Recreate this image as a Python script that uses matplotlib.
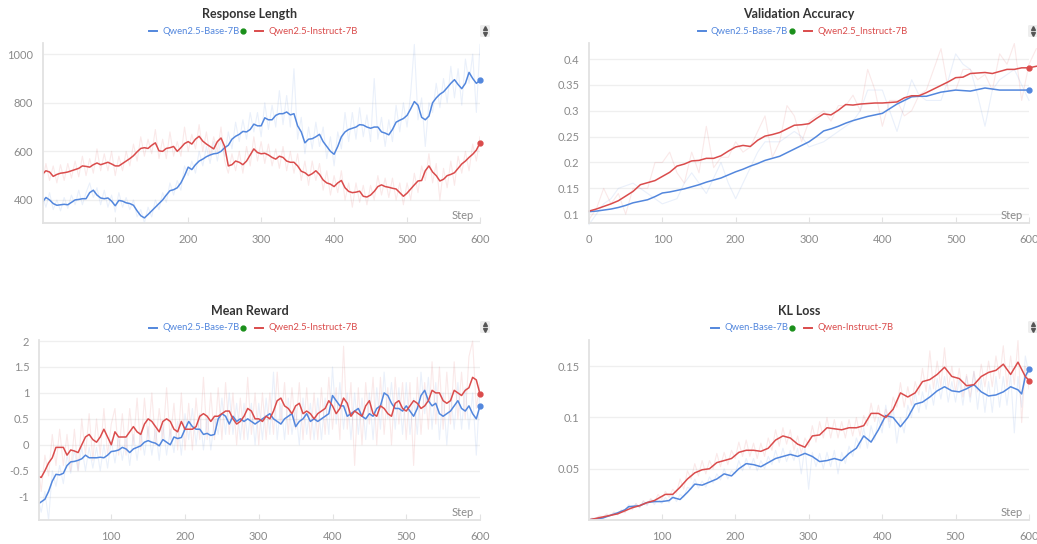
import numpy as np
import matplotlib
matplotlib.use('Agg')
import matplotlib.pyplot as plt
from matplotlib.lines import Line2D
from matplotlib.patches import FancyBboxPatch

plt.rcParams['font.family'] = ['Lato', 'DejaVu Sans']

BLUE = '#5387dd'
RED = '#da4c4c'

#------------------------------------------------ data
# grid of 5 steps used by the dense charts
steps5 = list(range(0, 601, 5))

# Response Length
rl_base = [390, 410, 400, 385, 378, 380, 382, 380, 390, 400, 402, 405, 405, 430, 440, 420, 408, 405, 408, 395,
           376, 398, 395, 388, 385, 378, 355, 335, 326, 340, 355, 370, 385, 400, 420, 438, 442, 450, 470, 500,
           535, 525, 545, 560, 568, 578, 585, 590, 592, 600, 615, 625, 650, 662, 670, 682, 680, 690, 712, 705,
           705, 738, 730, 730, 748, 755, 755, 762, 750, 755, 705, 680, 635, 650, 652, 660, 670, 640, 620, 600,
           588, 620, 660, 680, 690, 695, 700, 710, 708, 700, 695, 700, 700, 680, 675, 668, 690, 720, 728, 735,
           748, 775, 805, 790, 740, 730, 745, 800, 820, 835, 845, 862, 880, 895, 875, 858, 880, 925, 900, 880, 892]
rl_base_raw = [420, 370, 430, 360, 400, 355, 410, 365, 420, 380, 440, 380, 430, 470, 410, 450, 380, 440, 370, 420,
               350, 430, 370, 410, 360, 400, 330, 360, 305, 370, 330, 400, 360, 430, 390, 470, 420, 480, 440, 540,
               500, 560, 510, 600, 540, 620, 550, 640, 560, 650, 580, 680, 610, 720, 640, 730, 650, 760, 680, 760,
               660, 800, 690, 790, 700, 850, 710, 830, 700, 940, 650, 740, 590, 700, 610, 720, 620, 700, 570, 660,
               540, 680, 610, 760, 640, 760, 650, 780, 660, 750, 640, 900, 650, 740, 620, 730, 640, 790, 680, 800,
               700, 840, 1040, 730, 820, 620, 800, 760, 880, 780, 900, 800, 950, 820, 940, 790, 980, 880, 1000, 760, 1040]
rl_inst = [505, 520, 515, 497, 505, 510, 512, 515, 520, 525, 530, 540, 538, 535, 545, 552, 545, 550, 555, 548,
           540, 540, 550, 560, 570, 582, 598, 612, 615, 612, 625, 635, 602, 600, 612, 615, 620, 600, 615, 632,
           640, 630, 650, 662, 642, 630, 620, 610, 640, 655, 620, 540, 545, 560, 555, 545, 560, 585, 610, 595,
           590, 592, 585, 575, 568, 580, 575, 560, 555, 555, 540, 518, 512, 500, 508, 520, 505, 482, 470, 465,
           455, 470, 480, 450, 435, 430, 432, 436, 415, 412, 420, 435, 455, 462, 455, 452, 448, 445, 430, 415,
           428, 445, 462, 478, 480, 520, 540, 515, 500, 478, 485, 500, 505, 512, 530, 548, 560, 575, 588, 605, 635]
rl_inst_raw = [470, 550, 480, 540, 470, 545, 480, 550, 490, 560, 495, 580, 500, 570, 510, 610, 520, 590, 520, 600,
               500, 580, 520, 600, 540, 630, 560, 660, 580, 650, 590, 690, 570, 650, 570, 680, 580, 640, 580, 700,
               600, 670, 610, 710, 600, 680, 580, 660, 600, 700, 560, 510, 590, 520, 600, 510, 620, 540, 660, 560,
               640, 550, 630, 540, 610, 530, 620, 520, 600, 510, 590, 480, 560, 460, 560, 480, 550, 440, 520, 420,
               500, 430, 520, 400, 470, 370, 470, 390, 460, 380, 460, 400, 500, 420, 490, 410, 490, 400, 470, 380,
               470, 400, 510, 430, 540, 480, 590, 470, 550, 400, 530, 450, 560, 460, 580, 510, 600, 520, 630, 560, 660]

# Validation Accuracy (evaluated every 10 steps)
va_steps = list(range(0, 601, 10))
va_base = [0.105, 0.106, 0.108, 0.110, 0.113, 0.117, 0.122, 0.125, 0.128, 0.134, 0.141, 0.143, 0.146, 0.149, 0.153,
           0.157, 0.162, 0.166, 0.170, 0.176, 0.182, 0.187, 0.193, 0.198, 0.204, 0.208, 0.212, 0.219, 0.226, 0.233,
           0.240, 0.250, 0.261, 0.265, 0.270, 0.276, 0.281, 0.285, 0.289, 0.292, 0.295, 0.304, 0.313, 0.320, 0.327,
           0.328, 0.328, 0.332, 0.336, 0.338, 0.340, 0.339, 0.338, 0.341, 0.344, 0.342, 0.340, 0.340, 0.340, 0.340, 0.340]
va_base_raw = [0.08, 0.10, 0.12, 0.13, 0.15, 0.155, 0.16, 0.15, 0.14, 0.13, 0.12, 0.125, 0.13, 0.16, 0.18,
               0.16, 0.14, 0.17, 0.20, 0.16, 0.13, 0.16, 0.19, 0.22, 0.24, 0.24, 0.24, 0.25, 0.26, 0.25,
               0.23, 0.235, 0.24, 0.25, 0.26, 0.27, 0.28, 0.30, 0.34, 0.34, 0.34, 0.30, 0.26, 0.31, 0.36,
               0.33, 0.32, 0.32, 0.32, 0.36, 0.41, 0.39, 0.38, 0.33, 0.27, 0.34, 0.36, 0.37, 0.38, 0.35, 0.32]
va_steps_inst = list(range(0, 611, 10))
va_inst = [0.106, 0.110, 0.115, 0.120, 0.126, 0.135, 0.144, 0.157, 0.161, 0.165, 0.173, 0.181, 0.193, 0.197, 0.203,
           0.204, 0.208, 0.208, 0.213, 0.222, 0.230, 0.233, 0.231, 0.243, 0.251, 0.254, 0.258, 0.265, 0.272, 0.273,
           0.275, 0.285, 0.294, 0.292, 0.301, 0.312, 0.311, 0.313, 0.314, 0.315, 0.315, 0.316, 0.317, 0.325, 0.329,
           0.329, 0.335, 0.342, 0.349, 0.356, 0.364, 0.365, 0.372, 0.373, 0.374, 0.372, 0.376, 0.380, 0.380, 0.383,
           0.383, 0.386]
va_inst_raw = [0.09, 0.11, 0.15, 0.12, 0.14, 0.10, 0.15, 0.15, 0.15, 0.20, 0.20, 0.22, 0.18, 0.16, 0.22,
               0.18, 0.27, 0.19, 0.21, 0.21, 0.24, 0.22, 0.23, 0.26, 0.29, 0.21, 0.24, 0.31, 0.29, 0.24,
               0.28, 0.29, 0.30, 0.28, 0.31, 0.31, 0.33, 0.30, 0.38, 0.34, 0.27, 0.32, 0.32, 0.29, 0.30,
               0.33, 0.34, 0.38, 0.42, 0.34, 0.34, 0.38, 0.38, 0.36, 0.37, 0.34, 0.41, 0.39, 0.43, 0.32,
               0.39, 0.42]

# Mean Reward
mr_base = [-1.15, -1.1, -1.05, -0.9, -0.7, -0.57, -0.58, -0.55, -0.4, -0.33, -0.32, -0.3, -0.27, -0.2, -0.25,
           -0.25, -0.25, -0.24, -0.25, -0.2, -0.13, -0.12, -0.1, -0.05, -0.08, -0.15, -0.08, -0.05, -0.02, 0.05,
           0.08, 0.05, 0.03, -0.02, 0.1, 0.05, 0.0, 0.15, 0.12, 0.14, 0.3, 0.45, 0.35, 0.3, 0.3,
           0.2, 0.22, 0.18, 0.2, 0.5, 0.6, 0.55, 0.4, 0.55, 0.45, 0.5, 0.45, 0.5, 0.45, 0.4,
           0.45, 0.5, 0.55, 0.6, 0.5, 0.45, 0.4, 0.5, 0.55, 0.6, 0.35, 0.45, 0.5, 0.6, 0.45,
           0.5, 0.45, 0.5, 0.55, 0.6, 0.95, 0.85, 0.75, 0.75, 0.55, 0.6, 0.65, 0.7, 0.55, 0.5,
           0.6, 0.55, 0.7, 0.75, 1.0, 0.95, 0.8, 0.7, 0.7, 0.65, 0.75, 0.65, 0.55, 0.7, 0.95,
           1.05, 0.85, 0.75, 0.8, 0.6, 0.55, 0.6, 0.65, 0.75, 0.85, 0.7, 0.65, 0.75, 0.6, 0.5, 0.75]
mr_base_raw = [-1.0, -1.3, -0.9, -1.45, -0.5, -0.8, -0.4, -0.75, -0.2, -0.55, -0.1, -0.5, -0.05, -0.5, -0.05,
               -0.45, -0.05, -0.5, 0.0, -0.45, 0.1, -0.35, 0.15, -0.3, 0.15, -0.4, 0.2, -0.3, 0.25, -0.2,
               0.35, -0.2, 0.3, -0.3, 0.4, -0.2, 0.3, -0.15, 0.45, -0.2, 0.6, 0.1, 0.7, 0.0, 0.6,
               -0.1, 0.55, -0.1, 0.5, 0.2, 0.9, 0.2, 1.0, 0.2, 0.8, 0.1, 0.8, 0.1, 0.8, 0.0,
               0.8, 0.1, 0.9, 0.2, 1.4, 0.1, 0.8, 0.1, 0.9, 0.2, 0.7, 0.0, 0.9, 0.2, 0.8,
               0.1, 0.9, 0.1, 0.9, 0.2, 1.5, 0.4, 1.2, 0.3, 1.0, 0.1, 1.0, 0.2, 0.9, 0.1,
               1.0, 0.1, 1.1, 0.3, 1.4, 0.5, 1.2, 0.3, 1.1, 0.2, 1.2, 0.2, 0.9, 0.2, 1.4,
               0.6, 1.3, 0.3, 1.2, 0.1, 1.0, 0.0, 1.0, 0.3, 1.2, 0.3, 1.1, 0.3, 1.0, -0.2, 1.1]
mr_inst = [-0.6, -0.63, -0.5, -0.35, -0.25, -0.05, -0.05, -0.05, -0.2, -0.1, -0.12, -0.15, 0.0, 0.15, 0.2,
           0.1, 0.05, 0.15, 0.3, 0.15, 0.0, 0.25, 0.15, 0.15, 0.15, 0.25, 0.35, 0.25, 0.2, 0.4,
           0.5, 0.45, 0.35, 0.25, 0.45, 0.5, 0.45, 0.3, 0.25, 0.45, 0.3, 0.3, 0.3, 0.35, 0.55,
           0.6, 0.55, 0.45, 0.55, 0.55, 0.6, 0.65, 0.65, 0.5, 0.4, 0.45, 0.55, 0.7, 0.65, 0.5,
           0.5, 0.45, 0.55, 0.5, 0.65, 0.85, 0.9, 0.75, 0.7, 0.6, 0.75, 0.8, 0.6, 0.65, 0.6,
           0.5, 0.6, 0.65, 0.7, 0.85, 0.75, 0.6, 0.7, 0.9, 0.8, 0.55, 0.65, 0.6, 0.55, 0.75,
           0.85, 0.6, 0.55, 0.75, 0.7, 0.6, 0.55, 0.8, 0.85, 0.7, 0.65, 0.75, 0.85, 0.8, 0.7,
           0.75, 0.85, 1.05, 1.0, 1.0, 0.85, 0.8, 0.85, 1.05, 1.0, 0.95, 1.05, 1.1, 1.3, 1.25, 0.98]
mr_inst_raw = [-0.3, -0.9, -0.2, -0.6, 0.2, -0.4, 0.3, -0.4, 0.2, -0.5, 0.3, -0.5, 0.5, -0.2, 0.6,
               -0.3, 0.5, -0.2, 0.7, -0.2, 0.4, 0.7, -0.2, 0.6, -0.2, 0.7, 0.0, 0.9, -0.1, 0.9,
               0.1, 1.0, 0.0, 0.7, 0.1, 1.1, 0.1, 0.8, -0.1, 1.0, -0.1, 0.8, -0.1, 0.9, 0.1,
               1.3, 0.1, 1.0, 0.1, 1.1, 0.1, 1.2, 0.2, 1.0, 0.0, 0.9, 0.1, 1.3, 0.2, 1.0,
               0.0, 1.0, 0.1, 1.0, 0.2, 1.4, 0.4, 1.2, 0.2, 1.1, 0.3, 1.2, 0.1, 1.1, 0.1,
               1.0, 0.1, 1.1, 0.2, 1.3, 0.3, 1.1, 0.1, 1.9, 0.3, 1.2, -0.4, 1.1, 0.0, 1.2,
               0.4, 1.3, 0.0, 1.3, 0.2, 1.1, 0.0, 1.3, 0.4, 1.2, 0.1, 1.2, -0.4, 1.3, 0.2,
               1.2, 0.3, 1.6, 0.4, 1.5, 0.3, 1.4, 0.4, 1.6, 0.5, 1.4, 0.5, 1.7, 2.0, 0.7, 1.2]

# KL Loss
kl_steps_base = [0, 20, 40, 50, 55, 70, 80, 90, 100, 110, 115, 125, 135, 145, 155, 165, 175, 185, 195, 205,
                 215, 225, 235, 245, 255, 265, 275, 285, 295, 305, 315, 325, 335, 345, 355, 365, 375, 385, 395,
                 405, 415, 425, 435, 445, 455, 465, 475, 485, 495, 505, 515, 525, 535, 545, 555, 565, 575, 585,
                 590, 595, 600]
kl_base = [0.0, 0.002, 0.007, 0.01, 0.013, 0.014, 0.017, 0.018, 0.018, 0.019, 0.022, 0.02, 0.027, 0.035, 0.034,
           0.037, 0.04, 0.045, 0.043, 0.05, 0.055, 0.054, 0.052, 0.056, 0.06, 0.062, 0.064, 0.062, 0.065, 0.062,
           0.057, 0.058, 0.06, 0.058, 0.065, 0.07, 0.082, 0.076, 0.088, 0.102, 0.1, 0.091, 0.1, 0.113, 0.115,
           0.12, 0.126, 0.13, 0.126, 0.125, 0.128, 0.132, 0.125, 0.121, 0.122, 0.125, 0.13, 0.127, 0.123, 0.14, 0.147]
kl_base_raw = [0.0, 0.001, 0.002, 0.003, 0.002, 0.005, 0.004, 0.007, 0.006, 0.009, 0.008, 0.015, 0.011, 0.016, 0.012,
               0.018, 0.014, 0.02, 0.015, 0.021, 0.016, 0.022, 0.017, 0.025, 0.018, 0.025, 0.022, 0.032, 0.03, 0.04,
               0.031, 0.038, 0.032, 0.042, 0.036, 0.045, 0.039, 0.05, 0.04, 0.048, 0.045, 0.058, 0.048, 0.06, 0.05,
               0.06, 0.048, 0.058, 0.05, 0.062, 0.054, 0.068, 0.056, 0.07, 0.057, 0.068, 0.058, 0.07, 0.045, 0.072,
               0.03, 0.066, 0.052, 0.065, 0.05, 0.066, 0.052, 0.068, 0.045, 0.066, 0.055, 0.072, 0.062, 0.08, 0.07,
               0.09, 0.07, 0.092, 0.078, 0.1, 0.085, 0.112, 0.09, 0.11, 0.075, 0.1, 0.085, 0.112, 0.1, 0.125,
               0.105, 0.125, 0.108, 0.132, 0.112, 0.138, 0.118, 0.14, 0.115, 0.135, 0.115, 0.138, 0.112, 0.14, 0.115,
               0.145, 0.108, 0.138, 0.105, 0.135, 0.105, 0.14, 0.11, 0.14, 0.112, 0.142, 0.085, 0.14, 0.11, 0.16, 0.142]
kl_steps_inst = [0, 20, 40, 50, 60, 70, 80, 90, 100, 105, 115, 125, 135, 145, 155, 165, 175, 185, 195, 205,
                 215, 225, 235, 245, 255, 265, 275, 285, 295, 305, 315, 325, 335, 345, 355, 365, 375, 385, 395,
                 405, 415, 425, 435, 445, 455, 465, 475, 485, 495, 505, 515, 525, 535, 545, 555, 565, 575, 585,
                 595, 600]
kl_inst = [0.0, 0.003, 0.006, 0.009, 0.012, 0.014, 0.017, 0.019, 0.023, 0.025, 0.025, 0.032, 0.04, 0.046, 0.049,
           0.05, 0.056, 0.058, 0.06, 0.066, 0.068, 0.068, 0.067, 0.07, 0.078, 0.082, 0.08, 0.074, 0.071, 0.082,
           0.083, 0.09, 0.089, 0.088, 0.09, 0.09, 0.092, 0.104, 0.104, 0.1, 0.108, 0.124, 0.12, 0.124, 0.135,
           0.137, 0.142, 0.149, 0.14, 0.138, 0.131, 0.132, 0.14, 0.144, 0.146, 0.152, 0.142, 0.154, 0.14, 0.136]
kl_inst_raw = [0.0, 0.002, 0.001, 0.004, 0.003, 0.006, 0.004, 0.008, 0.005, 0.01, 0.007, 0.013, 0.01, 0.016, 0.012,
               0.019, 0.015, 0.021, 0.017, 0.025, 0.02, 0.028, 0.022, 0.03, 0.026, 0.04, 0.03, 0.048, 0.04, 0.055,
               0.043, 0.058, 0.045, 0.058, 0.05, 0.065, 0.052, 0.066, 0.054, 0.068, 0.06, 0.076, 0.062, 0.078, 0.062,
               0.075, 0.06, 0.075, 0.062, 0.08, 0.068, 0.088, 0.072, 0.09, 0.074, 0.088, 0.068, 0.082, 0.065, 0.08,
               0.072, 0.092, 0.076, 0.096, 0.08, 0.1, 0.08, 0.098, 0.08, 0.096, 0.08, 0.098, 0.082, 0.1, 0.082,
               0.102, 0.092, 0.114, 0.096, 0.112, 0.092, 0.108, 0.096, 0.12, 0.11, 0.134, 0.11, 0.13, 0.112, 0.135,
               0.122, 0.148, 0.125, 0.165, 0.128, 0.155, 0.13, 0.168, 0.128, 0.15, 0.125, 0.148, 0.12, 0.142, 0.12,
               0.145, 0.125, 0.152, 0.13, 0.155, 0.13, 0.16, 0.138, 0.17, 0.13, 0.16, 0.132, 0.175, 0.095, 0.15, 0.128]

#------------------------------------------------ figure
W, H = 1037, 544
fig = plt.figure(figsize=(W / 100, H / 100), dpi=100)


def px(x, y):
    return x / W, 1 - y / H


def make_ax(left, top, right, bottom):
    ax = fig.add_axes([left / W, 1 - bottom / H, (right - left) / W, (bottom - top) / H])
    for s in ['top', 'right']:
        ax.spines[s].set_visible(False)
    for s in ['left', 'bottom']:
        ax.spines[s].set_color('#e2e2e2')
        ax.spines[s].set_linewidth(1.3)
    ax.grid(axis='y', color='#efefef', linewidth=0.9)
    ax.set_axisbelow(True)
    ax.tick_params(axis='y', length=0, pad=7, labelsize=8, labelcolor='#8a8a8a')
    ax.tick_params(axis='x', direction='in', length=4, color='#e2e2e2', pad=8, labelsize=8, labelcolor='#8a8a8a')
    ax.text(0.985, 0.012, 'Step', transform=ax.transAxes, ha='right', va='bottom', fontsize=8, color='#8a8a8a')
    return ax


def fmt(v):
    return ('%g' % v)


def header(cx, ty, title, labels):
    x0, y0 = px(cx, ty)
    fig.text(x0, y0, title, ha='center', va='center', fontsize=9, fontweight='bold', color='#333333')
    # legend line laid out from measured text widths
    r = fig.canvas.get_renderer()
    ly = ty + 17
    fs = 6.8
    tmp = [fig.text(0, 0, lab, fontsize=fs) for lab in labels]
    widths = [t.get_window_extent(renderer=r).width for t in tmp]
    for t in tmp:
        t.remove()
    total = 8 + 5 + widths[0] + 4 + 5 + 8 + 8 + 5 + widths[1]
    x = cx - total / 2 + 4
    for i, (lab, c) in enumerate(zip(labels, [BLUE, RED])):
        fig.add_artist(Line2D([x / W, (x + 8) / W], [1 - ly / H] * 2, color=c, lw=1.4))
        x += 13
        fig.text(x / W, 1 - ly / H, lab, fontsize=fs, color=c, ha='left', va='center')
        x += widths[i]
        if i == 0:
            fig.add_artist(Line2D([(x + 4) / W], [1 - ly / H], marker='o', ms=3.5, color='#1a8f1a', lw=0))
            x += 16


def updown(x, y):
    fig.add_artist(FancyBboxPatch(((x - 5) / W, 1 - (y + 6) / H), 10 / W, 12 / H,
                                  boxstyle='round,pad=0,rounding_size=0.002', color='#eeeeee', lw=0))
    fig.add_artist(Line2D([x / W], [1 - (y - 2.6) / H], marker='^', ms=2.8, color='#555555', lw=0))
    fig.add_artist(Line2D([x / W], [1 - (y + 2.6) / H], marker='v', ms=2.8, color='#555555', lw=0))


def draw(ax, xb, yb, xbr, ybr, xi, yi, xir, yir, clip=True):
    ax.plot(xbr, ybr, color=BLUE, lw=0.8, alpha=0.12, clip_on=clip)
    ax.plot(xir, yir, color=RED, lw=0.8, alpha=0.12, clip_on=clip)
    ax.plot(xb, yb, color=BLUE, lw=1.1, clip_on=clip)
    ax.plot(xi, yi, color=RED, lw=1.1, clip_on=clip)
    ax.plot([600], [yb[xb.index(600)]], 'o', color=BLUE, ms=3.5, clip_on=False)
    ax.plot([600], [yi[xi.index(600)]], 'o', color=RED, ms=3.5, clip_on=False)


# Response Length
ax1 = make_ax(43, 43, 480, 223)
draw(ax1, steps5, rl_base, steps5, rl_base_raw, steps5, rl_inst, steps5, rl_inst_raw)
ax1.set_xlim(1, 600)
ax1.set_ylim(305, 1046)
ax1.set_xticks([100, 200, 300, 400, 500, 600])
ax1.set_yticks([400, 600, 800, 1000])
header(250, 14, 'Response Length', ['Qwen2.5-Base-7B', 'Qwen2.5-Instruct-7B'])
updown(485, 31)

# Validation Accuracy
ax2 = make_ax(589, 43, 1029, 223)
draw(ax2, va_steps, va_base, va_steps, va_base_raw, va_steps_inst, va_inst, va_steps_inst, va_inst_raw, clip=False)
ax2.set_xlim(0, 600)
ax2.set_ylim(0.083, 0.431)
ax2.set_xticks([0, 100, 200, 300, 400, 500, 600])
yt = [0.1, 0.15, 0.2, 0.25, 0.3, 0.35, 0.4]
ax2.set_yticks(yt)
ax2.set_yticklabels([fmt(v) for v in yt])
header(799, 14, 'Validation Accuracy', ['Qwen2.5-Base-7B', 'Qwen2.5_Instruct-7B'])
updown(1033, 31)

# Mean Reward
ax3 = make_ax(39, 340, 480, 520)
draw(ax3, steps5, mr_base, steps5, mr_base_raw, steps5, mr_inst, steps5, mr_inst_raw)
ax3.set_xlim(2, 600)
ax3.set_ylim(-1.45, 2.02)
ax3.set_xticks([100, 200, 300, 400, 500, 600])
yt = [-1, -0.5, 0, 0.5, 1, 1.5, 2]
ax3.set_yticks(yt)
ax3.set_yticklabels([fmt(v) for v in yt])
header(250, 311, 'Mean Reward', ['Qwen2.5-Base-7B', 'Qwen2.5-Instruct-7B'])
updown(485, 327)

# KL Loss
ax4 = make_ax(589, 340, 1029, 520)
draw(ax4, kl_steps_base, kl_base, steps5, kl_base_raw, kl_steps_inst, kl_inst, steps5, kl_inst_raw)
ax4.set_xlim(1, 600)
ax4.set_ylim(0, 0.1756)
ax4.set_xticks([100, 200, 300, 400, 500, 600])
yt = [0.05, 0.1, 0.15]
ax4.set_yticks(yt)
ax4.set_yticklabels([fmt(v) for v in yt])
header(799, 311, 'KL Loss', ['Qwen-Base-7B', 'Qwen-Instruct-7B'])
updown(1033, 327)

fig.savefig('out.png', dpi=100)
